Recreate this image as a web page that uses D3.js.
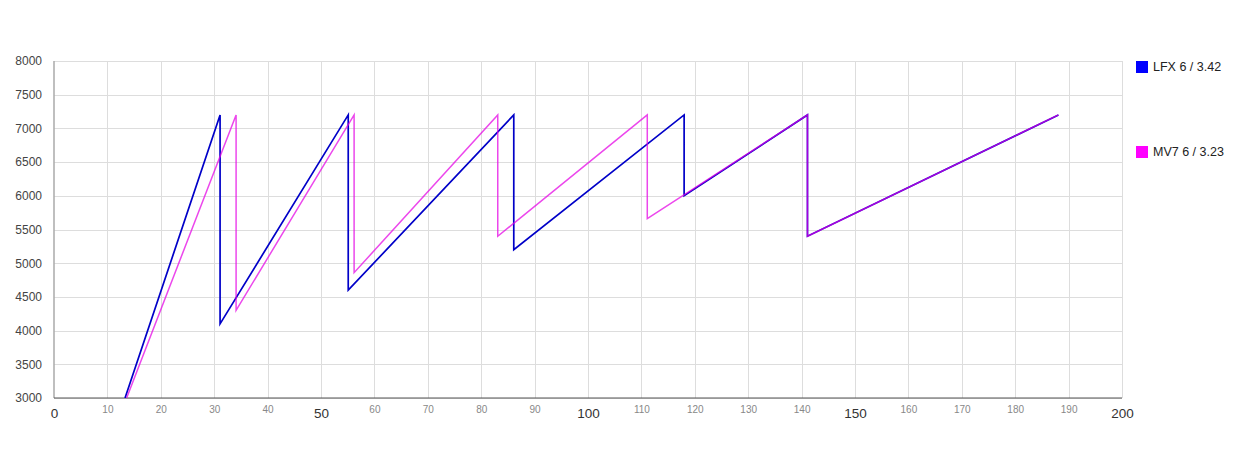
<!DOCTYPE html>
<html>
<head>
<meta charset="utf-8">
<script src="https://cdn.jsdelivr.net/npm/d3@7"></script>
<style>
  html, body { margin: 0; padding: 0; background: #fff; }
  svg { display: block; font-family: Arial, "Liberation Sans", sans-serif; }
</style>
</head>
<body>
<svg id="chart" width="1245" height="449"></svg>
<script>
// ---- data ----
const seriesNames = ["LFX 6 / 3.42", "MV7 6 / 3.23"];
const seriesColors = ["#0000ff", "#ff00ff"];
const lineColors = ["#0000c8", "#e400e4"];
const lfxSpeed = [13.3, 31.1, 31.1, 55.1, 55.1, 86.1, 86.1, 118.0, 118.0, 141.1, 141.1, 188.1];
const lfxRpm   = [3000, 7200, 4100, 7200, 4600, 7200, 5200, 7200, 6000, 7200, 5400, 7200];
const mv7Speed = [13.6, 34.1, 34.1, 56.2, 56.2, 83.1, 83.1, 111.1, 111.1, 141.1, 141.1, 188.1];
const mv7Rpm   = [3000, 7200, 4300, 7200, 4860, 7200, 5400, 7200, 5660, 7200, 5400, 7200];
const xTicks = d3.range(0, 201, 10);
const xMajorTicks = [0, 50, 100, 150, 200];
const yTicks = d3.range(3000, 8001, 500);

// ---- layout ----
const svg = d3.select("#chart");
const plot = { left: 54, top: 61, right: 1122, bottom: 398 };
const x = d3.scaleLinear().domain([0, 200]).range([plot.left, plot.right]);
const y = d3.scaleLinear().domain([3000, 8000]).range([plot.bottom, plot.top]);

svg.append("defs").append("clipPath").attr("id", "clip")
  .append("rect")
  .attr("x", plot.left).attr("y", plot.top)
  .attr("width", plot.right - plot.left).attr("height", plot.bottom - plot.top);

// horizontal gridlines + y labels
const yAxis = d3.axisLeft(y).tickValues(yTicks).tickSize(-(plot.right - plot.left)).tickPadding(12)
  .tickFormat(d3.format("d"));
const gy = svg.append("g").attr("transform", `translate(${plot.left},0)`).call(yAxis);
gy.select(".domain").remove();
gy.selectAll(".tick line").attr("stroke", "#dddddd").attr("stroke-width", 1)
  .attr("shape-rendering", "crispEdges");
gy.selectAll(".tick text").attr("fill", "#444").attr("font-size", 12)
  .attr("font-family", "Arial, 'Liberation Sans', sans-serif");

// vertical gridlines + x labels
const xAxis = d3.axisBottom(x).tickValues(xTicks).tickSize(-(plot.bottom - plot.top)).tickFormat(d3.format("d"));
const gx = svg.append("g").attr("transform", `translate(0,${plot.bottom})`).call(xAxis);
gx.select(".domain").remove();
gx.selectAll(".tick line").attr("stroke", "#dddddd").attr("stroke-width", 1)
  .attr("shape-rendering", "crispEdges")
  .attr("display", d => d === 0 ? "none" : null);
gx.selectAll(".tick text")
  .attr("font-family", "Arial, 'Liberation Sans', sans-serif")
  .attr("y", d => xMajorTicks.includes(d) ? 15 : 11)
  .attr("dy", "0.35em")
  .attr("font-size", d => xMajorTicks.includes(d) ? 13.5 : 10)
  .attr("fill", d => xMajorTicks.includes(d) ? "#333" : "#888");

// axis lines
svg.append("line")
  .attr("x1", x(0)).attr("x2", x(0)).attr("y1", plot.top).attr("y2", plot.bottom)
  .attr("stroke", "#aaaaaa").attr("stroke-width", 1.5);
svg.append("line")
  .attr("x1", plot.left).attr("x2", plot.right).attr("y1", y(3000)).attr("y2", y(3000))
  .attr("stroke", "#555").attr("stroke-width", 1.2);

// series lines
const line = d3.line().x(d => x(d[0])).y(d => y(d[1]));
const lfxPts = lfxSpeed.map((s, i) => [s, lfxRpm[i]]);
const mv7Pts = mv7Speed.map((s, i) => [s, mv7Rpm[i]]);
const lines = svg.append("g").attr("clip-path", "url(#clip)");
lines.append("path").datum(lfxPts).attr("d", line)
  .attr("fill", "none").attr("stroke", lineColors[0]).attr("stroke-width", 1.7)
  .attr("stroke-linejoin", "miter");
lines.append("path").datum(mv7Pts).attr("d", line)
  .attr("fill", "none").attr("stroke", lineColors[1]).attr("stroke-width", 1.5)
  .attr("stroke-opacity", 0.72).attr("stroke-linejoin", "miter");

// legend
const legendY = [67, 152];
const lg = svg.append("g");
seriesNames.forEach((name, i) => {
  lg.append("rect").attr("x", 1136).attr("y", legendY[i] - 6).attr("width", 12).attr("height", 12)
    .attr("fill", seriesColors[i]);
  lg.append("text").attr("x", 1153).attr("y", legendY[i]).attr("dy", "0.35em")
    .attr("font-size", 12.5).attr("fill", "#222").text(name);
});
</script>
</body>
</html>
